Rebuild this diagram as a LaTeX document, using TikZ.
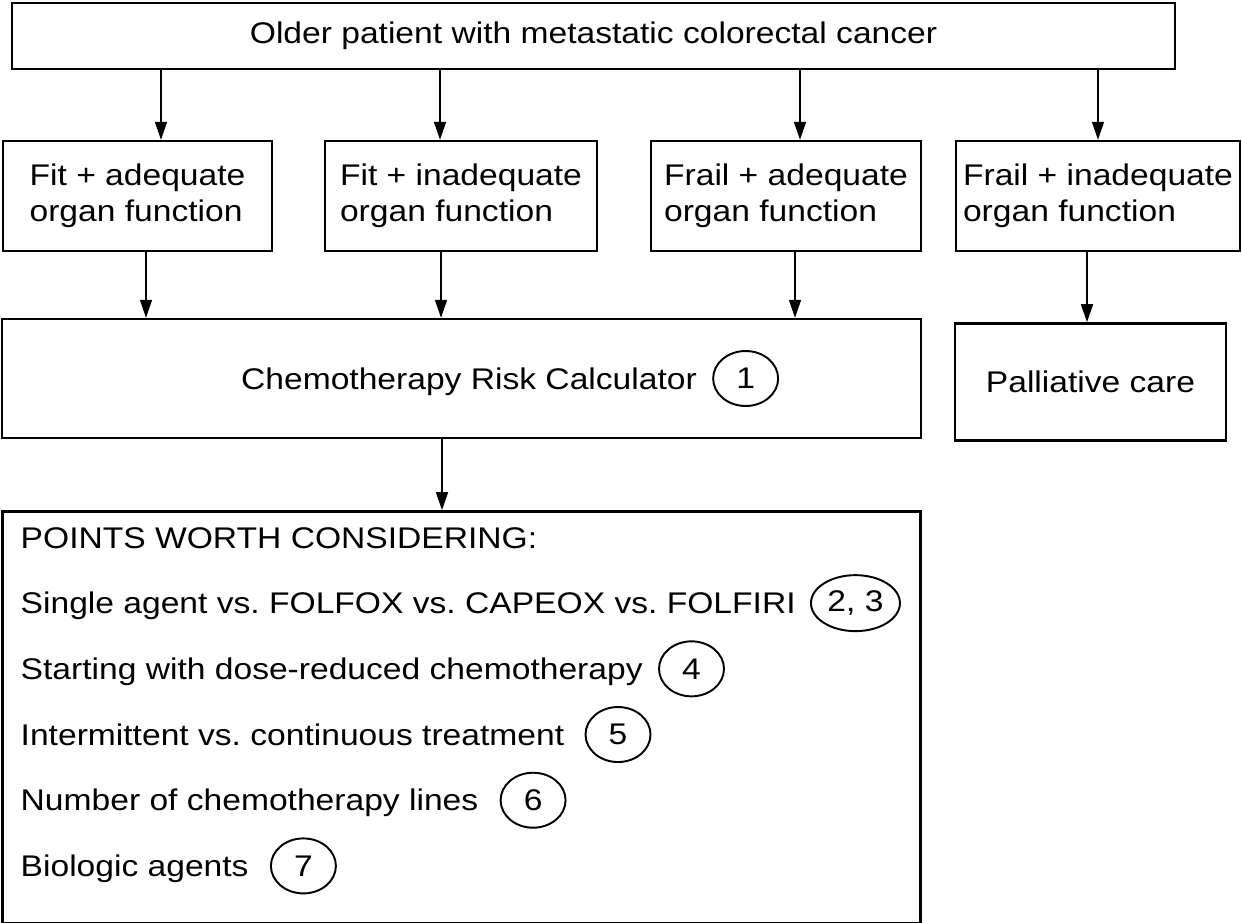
\documentclass[tikz,border=0pt]{standalone}
\usepackage{fontspec}
\setmainfont{Liberation Sans}[FakeStretch=1.125]
\usepackage{tikz}
\usetikzlibrary{positioning,arrows.meta,calc,shapes.geometric}
\frenchspacing

\begin{document}
\begin{tikzpicture}[
  x=0.02cm, y=-0.02cm,
  node distance=1.42cm,
  font=\fontsize{17pt}{20.5pt}\selectfont,
  box/.style={draw,line width=1.4pt,align=left,inner sep=0pt},
  item/.style={inner sep=0pt,text height=0.43cm,text depth=0pt},
  ref/.style={draw,ellipse,line width=1.1pt,inner sep=0pt,minimum width=1.3cm,minimum height=1.1cm},
  arr/.style={-{Triangle[length=0.36cm,width=0.24cm]},line width=0.9pt}]
  \useasboundingbox (0,0) rectangle (1242,923);
  \node (top) [box,minimum width=23.26cm,minimum height=1.32cm] at (593.5,36) {Older patient with metastatic colorectal cancer};
  \node (fa) [box,minimum width=5.38cm,minimum height=2.2cm] at (137.5,196) {Fit + adequate\\organ function};
  \node (fi) [box,minimum width=5.44cm,minimum height=2.2cm] at (461,196) {Fit + inadequate\\organ function};
  \node (fr) [box,minimum width=5.4cm,minimum height=2.2cm] at (786,196) {Frail + adequate\\organ function};
  \node (fri) [box,minimum width=5.68cm,minimum height=2.2cm] at (1098,196) {Frail + inadequate\\organ function};
  \node (chemo) [box,minimum width=18.38cm,minimum height=2.38cm] at (461.5,378.5) {};
  \node (crc) [item] at ([xshift=1.5mm]chemo.center) {Chemotherapy Risk Calculator};
  \node (r1) [ref,right=0.3cm of crc] {1};
  \node (pall) [box,below=1.4cm of fri,xshift=-1.5mm,minimum width=5.42cm,minimum height=2.34cm] {Palliative care};
  \node (pts) [box,below=of chemo,minimum width=18.36cm,minimum height=8.24cm] {};
  \node (head) [item,anchor=base west] at ($(pts.north west)+(19,38)$) {POINTS WORTH CONSIDERING:};
  \node (l1) [item,below=0.87cm of head.south west,anchor=north west] {Single agent vs. FOLFOX vs. CAPEOX vs. FOLFIRI};
  \node (l2) [item,below=0.87cm of l1.south west,anchor=north west] {Starting with dose-reduced chemotherapy};
  \node (l3) [item,below=0.87cm of l2.south west,anchor=north west] {Intermittent vs. continuous treatment};
  \node (l4) [item,below=0.87cm of l3.south west,anchor=north west] {Number of chemotherapy lines};
  \node (l5) [item,below=0.87cm of l4.south west,anchor=north west] {Biologic agents};
  \node (r23) [ref,right=0.28cm of l1,minimum width=1.78cm,minimum height=1.12cm] {2, 3};
  \node (r4) [ref,right=0.3cm of l2] {4};
  \node (r5) [ref,right=0.4cm of l3] {5};
  \node (r6) [ref,right=0.42cm of l4] {6};
  \node (r7) [ref,right=0.42cm of l5] {7};
  \draw[arr] ([xshift=4.7mm]fa.north |- top.south) -- ([xshift=4.7mm]fa.north);
  \draw[arr] ([xshift=-4.2mm]fi.north |- top.south) -- ([xshift=-4.2mm]fi.north);
  \draw[arr] ([xshift=2.8mm]fr.north |- top.south) -- ([xshift=2.8mm]fr.north);
  \draw[arr] (fri.north |- top.south) -- (fri.north);
  \draw[arr] ([xshift=1.7mm]fa.south) -- ([xshift=1.7mm]fa.south |- chemo.north);
  \draw[arr] ([xshift=-4mm]fi.south) -- ([xshift=-4mm]fi.south |- chemo.north);
  \draw[arr] ([xshift=1.8mm]fr.south) -- ([xshift=1.8mm]fr.south |- chemo.north);
  \draw[arr] ([xshift=-2.2mm]fri.south) -- ([xshift=-2.2mm]fri.south |- pall.north);
  \draw[arr] ([xshift=-3.9mm]chemo.south) -- ([xshift=-3.9mm]chemo.south |- pts.north);
\end{tikzpicture}
\end{document}
